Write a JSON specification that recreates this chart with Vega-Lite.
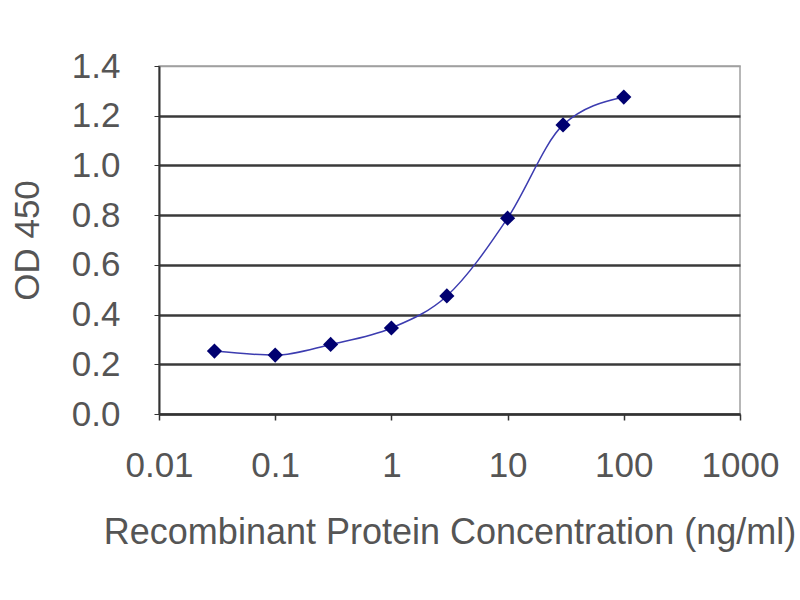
{
  "$schema": "https://vega.github.io/schema/vega-lite/v6.json",
  "width": 581,
  "height": 348,
  "autosize": "none",
  "padding": {"left": 159, "top": 66, "right": 60, "bottom": 186},
  "background": "white",
  "config": {
    "font": "Liberation Sans",
    "view": {"stroke": "#a0a0a0", "strokeWidth": 1.5}
  },
  "data": {
    "values": [
      {"conc": 0.03, "od": 0.253},
      {"conc": 0.1, "od": 0.237},
      {"conc": 0.3, "od": 0.28},
      {"conc": 1, "od": 0.346},
      {"conc": 3, "od": 0.475},
      {"conc": 10, "od": 0.788},
      {"conc": 30, "od": 1.163},
      {"conc": 100, "od": 1.275}
    ]
  },
  "encoding": {
    "x": {
      "field": "conc",
      "type": "quantitative",
      "scale": {"type": "log", "domain": [0.01, 1000], "nice": false},
      "axis": {
        "title": "Recombinant Protein Concentration (ng/ml)",
        "values": [0.01, 0.1, 1, 10, 100, 1000],
        "format": "~g",
        "grid": false,
        "labelFlush": false,
        "labelOverlap": false,
        "domainColor": "#333",
        "domainWidth": 2,
        "tickColor": "#333",
        "tickSize": 6,
        "tickWidth": 1.5,
        "labelFontSize": 35,
        "labelColor": "#555",
        "labelPadding": 28,
        "titleFontSize": 36,
        "titleFontWeight": "normal",
        "titleColor": "#555",
        "titlePadding": 32
      }
    },
    "y": {
      "field": "od",
      "type": "quantitative",
      "scale": {"domain": [0, 1.4], "nice": false},
      "axis": {
        "title": "OD 450",
        "values": [0, 0.2, 0.4, 0.6, 0.8, 1.0, 1.2, 1.4],
        "format": ".1f",
        "grid": true,
        "labelFlush": false,
        "labelOverlap": false,
        "gridColor": {"condition": {"test": "datum.value >= 1.39", "value": "#a0a0a0"}, "value": "#3a3a3a"},
        "gridWidth": {"condition": {"test": "datum.value >= 1.39", "value": 1.5}, "value": 2.5},
        "domainColor": "#333",
        "domainWidth": 2,
        "tickColor": "#333",
        "tickSize": 5,
        "labelFontSize": 35,
        "labelColor": "#555",
        "labelPadding": 34,
        "titleFontSize": 35,
        "titleFontWeight": "normal",
        "titleColor": "#555",
        "titlePadding": 26
      }
    }
  },
  "layer": [
    {
      "mark": {"type": "line", "interpolate": "monotone", "color": "#3c3cb0", "strokeWidth": 1.5}
    },
    {
      "mark": {"type": "point", "shape": "diamond", "filled": true, "color": "#000070", "size": 230, "opacity": 1}
    }
  ]
}
